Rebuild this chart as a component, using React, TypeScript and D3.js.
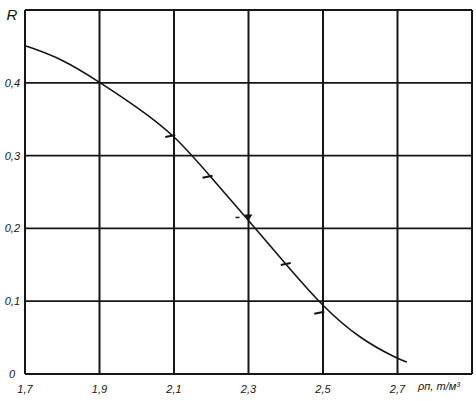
import React from "react";
import * as d3 from "d3";

const xTicks = [1.7, 1.9, 2.1, 2.3, 2.5, 2.7];
const xTickLabels = ["1,7", "1,9", "2,1", "2,3", "2,5", "2,7"];
const yTicks = [0, 0.1, 0.2, 0.3, 0.4];
const yTickLabels = ["0", "0,1", "0,2", "0,3", "0,4"];
const curveX = [1.7, 1.8, 1.9, 2.0, 2.1, 2.2, 2.3, 2.4, 2.5, 2.6, 2.7, 2.725];
const curveR = [0.451, 0.433, 0.401, 0.367, 0.329, 0.27, 0.211, 0.151, 0.092, 0.048, 0.021, 0.0165];
const markX = [2.09, 2.19, 2.3, 2.4, 2.49];
const markR = [0.327, 0.271, 0.215, 0.151, 0.084];

export default function App() {
  const W = 476, H = 401;
  const x = d3.scaleLinear().domain([1.7, 2.9]).range([25, 472]);
  const y = d3.scaleLinear().domain([0, 0.5]).range([374, 10]);
  const line = d3
    .line<number>()
    .x((_, i) => x(curveX[i]))
    .y((d) => y(d))
    .curve(d3.curveBasis);
  const ink = "#161616";
  const font = "'Liberation Sans', Arial, sans-serif";
  return (
    <svg width={W} height={H} style={{ position: "absolute", left: 0, top: 0, background: "#fff" }}>
      <rect x={0} y={0} width={W} height={H} fill="#fff" />
      {xTicks.concat([2.9]).map((t, i) => (
        <line key={"v" + i} x1={x(t)} x2={x(t)} y1={y(0.5)} y2={y(0)} stroke={ink} strokeWidth={2} />
      ))}
      {yTicks.concat([0.5]).map((t, i) => (
        <line key={"h" + i} x1={x(1.7)} x2={x(2.9)} y1={y(t)} y2={y(t)} stroke={ink} strokeWidth={t === 0 || t === 0.5 ? 2 : 1.8} />
      ))}
      <path d={line(curveR) || ""} fill="none" stroke={ink} strokeWidth={1.6} />
      {markX.map((mx, i) =>
        i === 2 ? (
          <g key={"m" + i}>
            <path
              d={`M${x(mx) - 4},${y(markR[i]) - 3} L${x(mx) + 4},${y(markR[i]) - 3} L${x(mx)},${y(markR[i]) + 3} Z`}
              fill={ink}
            />
            <line x1={x(mx) - 13} x2={x(mx) - 9} y1={y(markR[i])} y2={y(markR[i])} stroke={ink} strokeWidth={1.5} />
          </g>
        ) : (
          <line
            key={"m" + i}
            x1={x(mx) - 5}
            x2={x(mx) + 5}
            y1={y(markR[i]) + 1}
            y2={y(markR[i]) - 1}
            stroke={ink}
            strokeWidth={2}
          />
        )
      )}
      {yTicks.map((t, i) => (
        <text
          key={"yl" + i}
          x={t === 0 ? 15 : 20}
          y={y(t) + 4}
          textAnchor="end"
          fontFamily={font}
          fontStyle="italic"
          fontSize={11}
          fill={ink}
        >
          {yTickLabels[i]}
        </text>
      ))}
      <text x={12} y={20} textAnchor="middle" fontFamily={font} fontStyle="italic" fontSize={15} fill={ink}>
        R
      </text>
      {xTicks.map((t, i) => (
        <text
          key={"xl" + i}
          x={x(t)}
          y={393}
          textAnchor="middle"
          fontFamily={font}
          fontStyle="italic"
          fontSize={11}
          fill={ink}
        >
          {xTickLabels[i]}
        </text>
      ))}
      <text x={418} y={390} fontFamily={font} fontStyle="italic" fontSize={11} fill={ink}>
        ρп, т/м³
      </text>
    </svg>
  );
}
